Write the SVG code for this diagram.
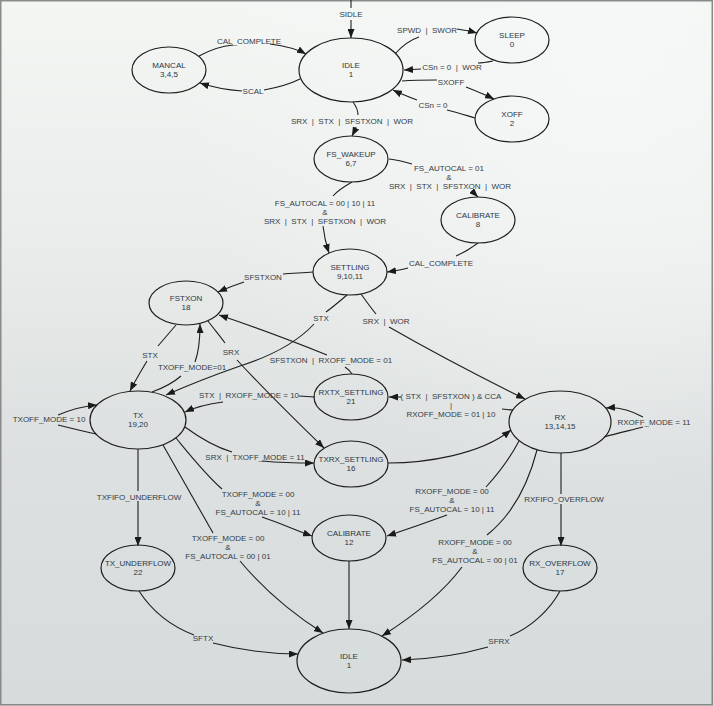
<svg xmlns="http://www.w3.org/2000/svg" width="714" height="706" viewBox="0 0 714 706">
<defs>
<linearGradient id="bg" x1="0" y1="0" x2="0" y2="1">
<stop offset="0" stop-color="#f4f6f4"/>
<stop offset="0.35" stop-color="#e9ecea"/>
<stop offset="0.6" stop-color="#dde1e1"/>
<stop offset="1" stop-color="#d6dbdb"/>
</linearGradient>
<radialGradient id="glow" cx="0.85" cy="0.1" r="0.6">
<stop offset="0" stop-color="#f6f8f7" stop-opacity="0.9"/>
<stop offset="1" stop-color="#f6f8f7" stop-opacity="0"/>
</radialGradient>
<marker id="ah" markerWidth="9" markerHeight="7" refX="9" refY="3.5" orient="auto" markerUnits="userSpaceOnUse">
<path d="M0,0 L9,3.5 L0,7 z" fill="#1a1a1a"/>
</marker>
<style>
.node ellipse{fill:none;stroke:#1e1e1e;stroke-width:1.2}
.node text{font-family:"Liberation Sans",Arial,sans-serif;font-size:8px;fill:#2a3646;text-anchor:middle}
.edges path{fill:none;stroke:#1e1e1e;stroke-width:1.1}
.edges path.a{marker-end:url(#ah)}
.lbl text{font-family:"Liberation Sans",Arial,sans-serif;font-size:8px;fill:#333b45;text-anchor:middle}
</style>
</defs>
<rect x="0" y="0" width="714" height="706" fill="url(#bg)"/>
<rect x="0" y="0" width="714" height="706" fill="url(#glow)"/>
<rect x="0.75" y="0.75" width="711.5" height="704" fill="none" stroke="#8a8a8a" stroke-width="1.5"/>

<g class="edges">
<path d="M351,0 L351,8"/>
<path class="a" d="M351,20 L351,38"/>
<path d="M199,56 C210,50 222,46 233,45"/>
<path class="a" d="M270,44 C285,46 297,49 306,54"/>
<path d="M300,79 C290,84 275,88 264,90"/>
<path class="a" d="M242,91 C228,90 212,87 200,83"/>
<path d="M395,54 C402,46 410,40 419,37"/>
<path class="a" d="M457,29 C464,30 470,31 477,33"/>
<path d="M493,61 C488,62 483,63 478,63"/>
<path class="a" d="M421,69 L404,70"/>
<path d="M402,81 C415,80 426,80 437,80"/>
<path class="a" d="M466,87 C476,91 486,95 494,99"/>
<path d="M475,118 C465,115 456,112 447,110"/>
<path class="a" d="M417,100 C409,97 401,94 393,90"/>
<path d="M353,102 C356,106 358,110 358,115"/>
<path class="a" d="M356,127 C355,130 354,132 352,136"/>
<path d="M389,159 C397,160 405,162 412,164"/>
<path class="a" d="M471,191 C474,193 476,195 478,197"/>
<path d="M352,182 C345,186 338,190 333,196"/>
<path class="a" d="M323,226 C324,235 326,244 329,253"/>
<path d="M478,243 C470,249 463,253 456,256"/>
<path class="a" d="M408,268 C401,270 394,271 387,272"/>
<path d="M313,272 C303,273 293,273 283,274"/>
<path class="a" d="M244,282 C235,285 227,288 218,292"/>
<path d="M347,295 C340,301 333,307 326,312"/>
<path class="a" d="M314,324 Q290,350 240,366 Q200,380 166,395"/>
<path class="a" d="M389,327 Q450,362 525,399"/>
<path d="M361,294 C366,301 371,308 376,314"/>
<path d="M176,325 C170,332 164,339 158,346"/>
<path class="a" d="M147,361 C141,371 135,381 130,391"/>
<path d="M152,392 C163,388 173,383 181,376"/>
<path class="a" d="M195,362 C198,354 200,340 200,324"/>
<path d="M208,321 C214,329 220,336 225,343"/>
<path class="a" d="M237,360 C260,385 290,415 324,448"/>
<path d="M352,374 C350,371 348,369 345,367"/>
<path class="a" d="M327,355 Q270,332 219,315"/>
<path d="M299,396 L315,397"/>
<path class="a" d="M223,402 Q200,405 185,412"/>
<path d="M513,410 C509,410 505,409 502,409"/>
<path class="a" d="M401,397 L389,397"/>
<path class="a" d="M58,415 C70,410 84,406 97,405"/>
<path d="M96,434 C82,431 70,428 58,425"/>
<path d="M185,427 C200,438 215,447 232,452"/>
<path class="a" d="M262,461 C285,463 300,463 314,463"/>
<path class="a" d="M388,463 C425,463 480,455 511,430"/>
<path class="a" d="M643,417 C630,410 618,407 606,408"/>
<path d="M604,437 C618,433 632,430 643,427"/>
<path d="M138,449 L138,491"/>
<path class="a" d="M138,501 L138,546"/>
<path d="M176,438 C190,455 205,474 222,489"/>
<path class="a" d="M262,517 C280,523 295,530 312,536"/>
<path d="M163,445 C180,475 197,505 213,533"/>
<path class="a" d="M240,561 C260,585 290,612 323,633"/>
<path d="M519,441 C510,458 498,474 486,487"/>
<path class="a" d="M447,515 C428,522 405,530 387,536"/>
<path d="M537,450 C528,485 512,515 487,535"/>
<path class="a" d="M462,567 C445,590 415,615 382,636"/>
<path d="M561,453 L561,494"/>
<path class="a" d="M561,504 L561,546"/>
<path class="a" d="M349,561 L349,629"/>
<path d="M139,591 C150,608 168,625 194,635"/>
<path class="a" d="M213,643 C240,650 270,654 298,654"/>
<path d="M560,591 C550,610 530,628 510,636"/>
<path class="a" d="M488,647 C460,655 430,659 402,660"/>
</g>

<g class="lbl">
<text x="351" y="17">SIDLE</text>
<text x="249" y="44">CAL_COMPLETE</text>
<text x="253" y="94">SCAL</text>
<text x="427" y="33">SPWD&#160; |&#160; SWOR</text>
<text x="452" y="70">CSn = 0&#160; |&#160; WOR</text>
<text x="451" y="85">SXOFF</text>
<text x="433" y="108">CSn = 0</text>
<text x="352" y="124">SRX&#160; |&#160; STX&#160; |&#160; SFSTXON&#160; |&#160; WOR</text>
<text x="449" y="171">FS_AUTOCAL = 01</text>
<text x="449" y="180">&amp;</text>
<text x="450" y="189">SRX&#160; |&#160; STX&#160; |&#160; SFSTXON&#160; |&#160; WOR</text>
<text x="325" y="206">FS_AUTOCAL = 00 | 10 | 11</text>
<text x="325" y="215">&amp;</text>
<text x="325" y="224">SRX&#160; |&#160; STX&#160; |&#160; SFSTXON&#160; |&#160; WOR</text>
<text x="441" y="266">CAL_COMPLETE</text>
<text x="263" y="280">SFSTXON</text>
<text x="321" y="321">STX</text>
<text x="386" y="324">SRX&#160; |&#160; WOR</text>
<text x="150" y="358">STX</text>
<text x="192" y="370">TXOFF_MODE=01</text>
<text x="231" y="355">SRX</text>
<text x="331" y="363">SFSTXON&#160; |&#160; RXOFF_MODE = 01</text>
<text x="249" y="398">STX&#160; |&#160; RXOFF_MODE = 10</text>
<text x="451" y="399">(&#160;STX&#160; |&#160; SFSTXON ) &amp; CCA</text>
<text x="451" y="408">|</text>
<text x="451" y="417">RXOFF_MODE = 01 | 10</text>
<text x="49" y="422">TXOFF_MODE = 10</text>
<text x="255" y="460">SRX&#160; |&#160; TXOFF_MODE = 11</text>
<text x="654" y="425">RXOFF_MODE = 11</text>
<text x="139" y="500">TXFIFO_UNDERFLOW</text>
<text x="258" y="497">TXOFF_MODE = 00</text>
<text x="258" y="506">&amp;</text>
<text x="258" y="515">FS_AUTOCAL = 10 | 11</text>
<text x="228" y="541">TXOFF_MODE = 00</text>
<text x="228" y="550">&amp;</text>
<text x="228" y="559">FS_AUTOCAL = 00 | 01</text>
<text x="452" y="494">RXOFF_MODE = 00</text>
<text x="452" y="503">&amp;</text>
<text x="452" y="512">FS_AUTOCAL = 10 | 11</text>
<text x="475" y="545">RXOFF_MODE = 00</text>
<text x="475" y="554">&amp;</text>
<text x="475" y="563">FS_AUTOCAL = 00 | 01</text>
<text x="564" y="502">RXFIFO_OVERFLOW</text>
<text x="203" y="641">SFTX</text>
<text x="499" y="644">SFRX</text>
</g>

<g id="node-idle-top" class="node"><ellipse cx="351" cy="70" rx="52" ry="32"/><text x="351" y="68">IDLE</text><text x="351" y="77">1</text></g>
<g id="node-mancal" class="node"><ellipse cx="169" cy="70" rx="37" ry="23"/><text x="169" y="68">MANCAL</text><text x="169" y="77">3,4,5</text></g>
<g id="node-sleep" class="node"><ellipse cx="512" cy="40" rx="37" ry="23"/><text x="512" y="38">SLEEP</text><text x="512" y="47">0</text></g>
<g id="node-xoff" class="node"><ellipse cx="512" cy="119" rx="37" ry="23"/><text x="512" y="117">XOFF</text><text x="512" y="126">2</text></g>
<g id="node-fs-wakeup" class="node"><ellipse cx="351" cy="159" rx="37" ry="23"/><text x="351" y="157">FS_WAKEUP</text><text x="351" y="166">6,7</text></g>
<g id="node-calibrate-8" class="node"><ellipse cx="478" cy="220" rx="37" ry="23"/><text x="478" y="218">CALIBRATE</text><text x="478" y="227">8</text></g>
<g id="node-settling" class="node"><ellipse cx="350" cy="272" rx="37" ry="23"/><text x="350" y="270">SETTLING</text><text x="350" y="279">9,10,11</text></g>
<g id="node-fstxon" class="node"><ellipse cx="186" cy="303" rx="37" ry="22"/><text x="186" y="301">FSTXON</text><text x="186" y="310">18</text></g>
<g id="node-tx" class="node"><ellipse cx="138" cy="420" rx="48" ry="29"/><text x="138" y="418">TX</text><text x="138" y="427">19,20</text></g>
<g id="node-rxtx-settling" class="node"><ellipse cx="351" cy="397" rx="37" ry="23"/><text x="351" y="395">RXTX_SETTLING</text><text x="351" y="404">21</text></g>
<g id="node-txrx-settling" class="node"><ellipse cx="351" cy="464" rx="37" ry="23"/><text x="351" y="462">TXRX_SETTLING</text><text x="351" y="471">16</text></g>
<g id="node-rx" class="node"><ellipse cx="560" cy="422" rx="51" ry="31"/><text x="560" y="420">RX</text><text x="560" y="429">13,14,15</text></g>
<g id="node-calibrate-12" class="node"><ellipse cx="349" cy="538" rx="37" ry="23"/><text x="349" y="536">CALIBRATE</text><text x="349" y="545">12</text></g>
<g id="node-tx-underflow" class="node"><ellipse cx="138" cy="568" rx="37" ry="23"/><text x="138" y="566">TX_UNDERFLOW</text><text x="138" y="575">22</text></g>
<g id="node-rx-overflow" class="node"><ellipse cx="560" cy="568" rx="37" ry="23"/><text x="560" y="566">RX_OVERFLOW</text><text x="560" y="575">17</text></g>
<g id="node-idle-bottom" class="node"><ellipse cx="349" cy="661" rx="52" ry="32"/><text x="349" y="659">IDLE</text><text x="349" y="668">1</text></g>
</svg>
